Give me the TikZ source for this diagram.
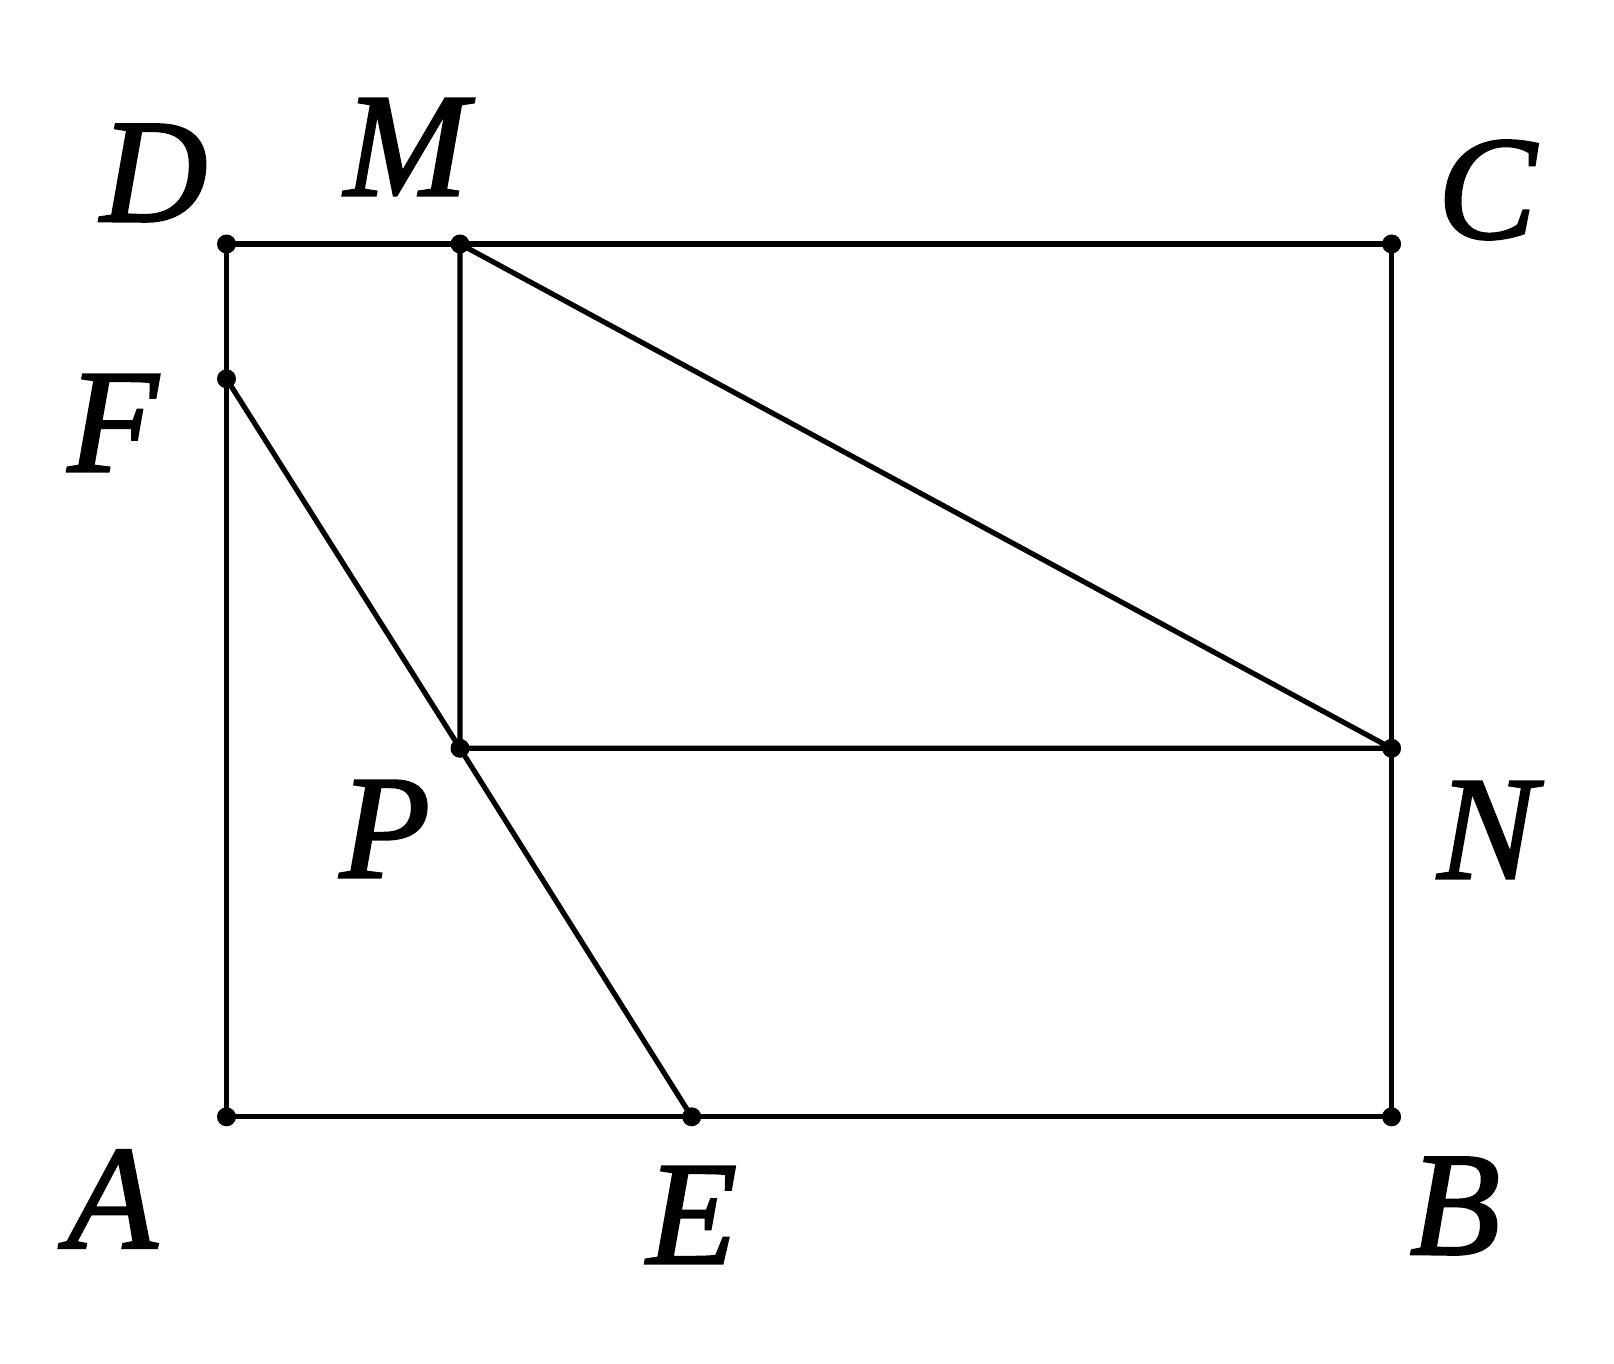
\documentclass[tikz,border=0pt]{standalone}
\usepackage{fontspec}
\setmainfont{Liberation Serif}
\newfontfamily\labfont{Liberation Serif}[ItalicFont={Liberation Serif/I},ItalicFeatures={FakeBold=1.6}]
\begin{document}
\begin{tikzpicture}[x=0.5pt,y=-0.5pt,
  seg/.style={line width=2.6pt,line join=round},
  dot/.style={circle,fill=black,inner sep=0pt,minimum size=9.5pt},
  lab/.style={inner sep=0pt,font=\fontsize{74}{80}\labfont\itshape}]
\useasboundingbox (0,0) rectangle (1614,1364);
\coordinate (A) at (226.5,1116.8);
\coordinate (B) at (1391.6,1116.8);
\coordinate (C) at (1391.6,244);
\coordinate (D) at (226.5,244);
\coordinate (M) at (460,244);
\coordinate (F) at (226.5,378.8);
\coordinate (P) at (460,748.3);
\coordinate (N) at (1391.6,748.3);
\coordinate (E) at (691.7,1116.8);
\draw[seg] (A) -- (E) -- (B) -- (N) -- (C) -- (M) -- (D) -- (F) -- cycle;
\draw[seg] (M) -- (P) -- (N) -- (M);
\draw[seg] (F) -- (P) -- (E);
\foreach \p in {A,B,C,D,M,F,P,N,E} \node[dot] at (\p) {};
\node[lab] (lD) at (154,173) {D};
\node[lab] (lM) at (406,147) {M};
\node[lab] (lC) at (1487,190) {C};
\node[lab] (lF) at (113,423) {F};
\node[lab] (lP) at (385,829) {P};
\node[lab] (lN) at (1487,830) {N};
\node[lab] (lA) at (112,1199) {A};
\node[lab] (lE) at (692,1215) {E};
\node[lab] (lB) at (1455,1206) {B};
\end{tikzpicture}
\end{document}
